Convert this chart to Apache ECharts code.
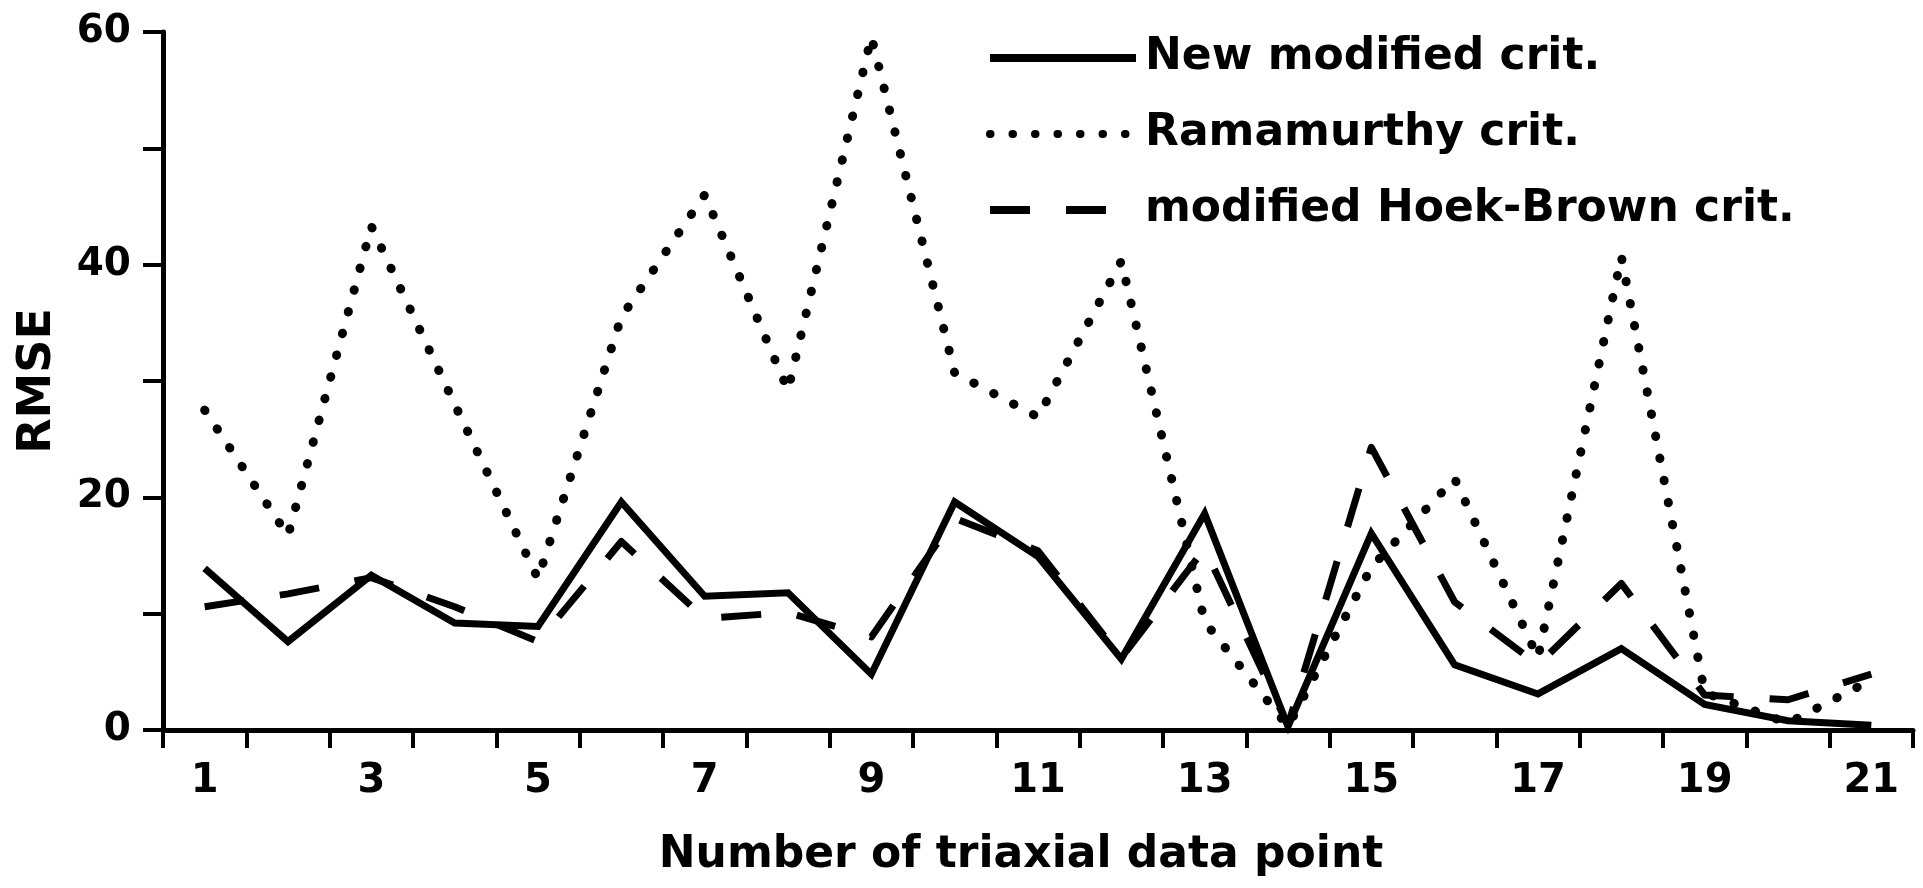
<!DOCTYPE html>
<html>
<head>
<meta charset="utf-8">
<script src="https://cdn.jsdelivr.net/npm/echarts@6/dist/echarts.min.js"></script>
<style>
  html, body { margin: 0; padding: 0; background: #fff; }
  #chart { width: 1923px; height: 888px; }
</style>
</head>
<body>
<div id="chart"></div>
<script>
// Triaxial data point numbers (x categories)
const points = ['1','2','3','4','5','6','7','8','9','10','11','12','13','14','15','16','17','18','19','20','21'];

// RMSE of each failure criterion per data point
const newModified = [13.9, 7.6, 13.3, 9.2, 8.9, 19.6, 11.5, 11.8, 4.8, 19.6, 14.9, 6.1, 18.6, 0.3, 16.9, 5.6, 3.1, 7.0, 2.2, 0.8, 0.4];
const ramamurthy  = [27.5, 16.7, 43.3, 28.0, 13.0, 35.5, 46.0, 29.2, 59.6, 30.7, 26.9, 40.3, 9.3, 0.3, 14.0, 21.6, 6.2, 40.7, 3.2, 0.6, 4.3];
const hoekBrown   = [10.6, 11.7, 13.1, 10.6, 7.6, 16.2, 9.6, 10.1, 8.0, 18.2, 15.4, 6.2, 15.6, 0.4, 24.3, 11.0, 5.6, 12.6, 3.0, 2.6, 4.8];

// Y axis: ticks every 10, labels every 20
const yMin = 0, yMax = 60, yStep = 10, yLabelStep = 20;

const seriesNames = ['New modified crit.', 'Ramamurthy crit.', 'modified Hoek-Brown crit.'];

const FONT = 'DejaVu Sans';
const INK = '#000';

const chart = echarts.init(document.getElementById('chart'), null, { renderer: 'canvas' });

chart.setOption({
  animation: false,
  backgroundColor: '#fff',
  color: [INK, INK, INK],
  grid: { left: 163, right: 10, top: 32, bottom: 158, containLabel: false },
  legend: {
    orient: 'vertical',
    left: 981,
    top: 31,
    data: [seriesNames[0], seriesNames[1], seriesNames[2]],
    itemWidth: 146,
    itemHeight: 14,
    itemGap: 32,
    selectedMode: false,
    itemStyle: { opacity: 0 },
    lineStyle: { width: 8 },
    textStyle: {
      fontFamily: FONT, fontWeight: 'bold', fontSize: 44, color: INK,
      lineHeight: 44, padding: [0, 0, 0, 4]
    }
  },
  xAxis: {
    type: 'category',
    data: points,
    boundaryGap: true,
    name: 'Number of triaxial data point',
    nameLocation: 'middle',
    nameGap: 104,
    nameTextStyle: {
      fontFamily: FONT, fontWeight: 'bold', fontSize: 44, color: INK,
      padding: [0, 34, 0, 0]
    },
    axisLine: { show: true, lineStyle: { color: INK, width: 5 } },
    axisTick: { show: true, interval: 0, length: 18, lineStyle: { color: INK, width: 4 } },
    axisLabel: {
      interval: 1, margin: 32,
      fontFamily: FONT, fontWeight: 'bold', fontSize: 40, color: INK
    },
    splitLine: { show: false }
  },
  yAxis: {
    type: 'value',
    min: yMin, max: yMax, interval: yStep,
    name: 'RMSE',
    nameLocation: 'middle',
    nameGap: 102,
    nameRotate: 90,
    nameTextStyle: { fontFamily: FONT, fontWeight: 'bold', fontSize: 46, color: INK },
    axisLine: { show: true, lineStyle: { color: INK, width: 5 } },
    axisTick: { show: true, length: 20, lineStyle: { color: INK, width: 4 } },
    axisLabel: {
      margin: 32,
      fontFamily: FONT, fontWeight: 'bold', fontSize: 39, color: INK,
      formatter: v => (v % yLabelStep === 0 ? String(v) : '')
    },
    splitLine: { show: false }
  },
  series: [
    {
      name: seriesNames[1], type: 'line', data: ramamurthy,
      symbol: 'none', z: 2,
      itemStyle: { color: INK },
      lineStyle: { color: INK, width: 9, type: [0.5, 22], cap: 'round', join: 'round' }
    },
    {
      name: seriesNames[2], type: 'line', data: hoekBrown,
      symbol: 'none', z: 3,
      itemStyle: { color: INK },
      lineStyle: { color: INK, width: 7, type: [40, 36], cap: 'butt', join: 'round' }
    },
    {
      name: seriesNames[0], type: 'line', data: newModified,
      symbol: 'none', z: 4,
      itemStyle: { color: INK },
      lineStyle: { color: INK, width: 7, type: 'solid', join: 'miter' }
    }
  ]
});
</script>
</body>
</html>
